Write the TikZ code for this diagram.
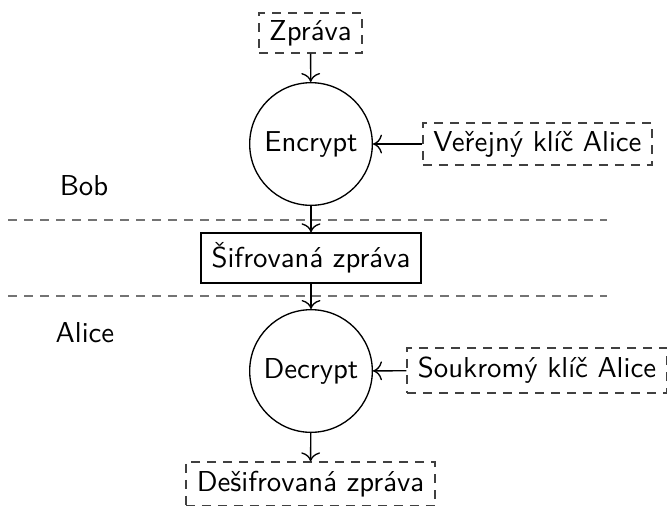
\documentclass[tikz,border=0pt]{standalone}
\usepackage{fontspec}
\usetikzlibrary{arrows.meta}
\begin{document}
\begin{tikzpicture}[
  x=0.375pt, y=-0.375pt,
  line width=0.5pt,
  every node/.style={font=\sffamily\fontsize{10.8}{13}\selectfont, inner sep=0pt, align=center},
  msgbox/.style={draw=black!75, dash pattern=on 3.3pt off 2.7pt, rectangle},
  cipherbox/.style={draw, rectangle},
  opcircle/.style={draw, circle, minimum size=46pt},
  sep/.style={draw=black!55, dash pattern=on 3.3pt off 2.7pt},
  flow/.style={-{To[scale=1.25]}}
]
\clip (0,0) rectangle (667,505);
\useasboundingbox (0,0) rectangle (667,505);

% Bob's side
\node[msgbox, minimum width=38.6pt, minimum height=15pt] (zprava) at (310.5,33) {Zpráva};
\node[opcircle] (enc) at (311,144) {Encrypt};
\node[msgbox, minimum width=85.9pt, minimum height=15.75pt] (pub) at (537.5,144) {Veřejný klíč Alice};
\node (bob) at (84,186) {Bob};

% boundary lines
\coordinate (l1a) at (8,220);
\coordinate (l1b) at (607,220);
\coordinate (l2a) at (8,296);
\coordinate (l2b) at (607,296);
\draw[sep] (l1a) -- (l1b);
\draw[sep] (l2a) -- (l2b);

% ciphertext in transit
\node[cipherbox, minimum width=82.5pt, minimum height=18.75pt, fill=white] (sif) at (311,258) {Šifrovaná zpráva};

% Alice's side
\node (alice) at (85,333) {Alice};
\node[opcircle] (dec) at (311,371) {Decrypt};
\node[msgbox, minimum width=97.5pt, minimum height=16.9pt] (priv) at (537,370.5) {Soukromý klíč Alice};
\node[msgbox, minimum width=93.4pt, minimum height=16.5pt] (desif) at (310.5,484) {Dešifrovaná zpráva};

% data flow
\draw[flow] (zprava) -- (enc);
\draw[flow] (pub) -- (enc);
\draw[flow] (enc) -- (sif);
\draw[flow] (sif) -- (dec);
\draw[flow] (priv) -- (dec);
\draw[flow] (dec) -- (desif);
\end{tikzpicture}
\end{document}
